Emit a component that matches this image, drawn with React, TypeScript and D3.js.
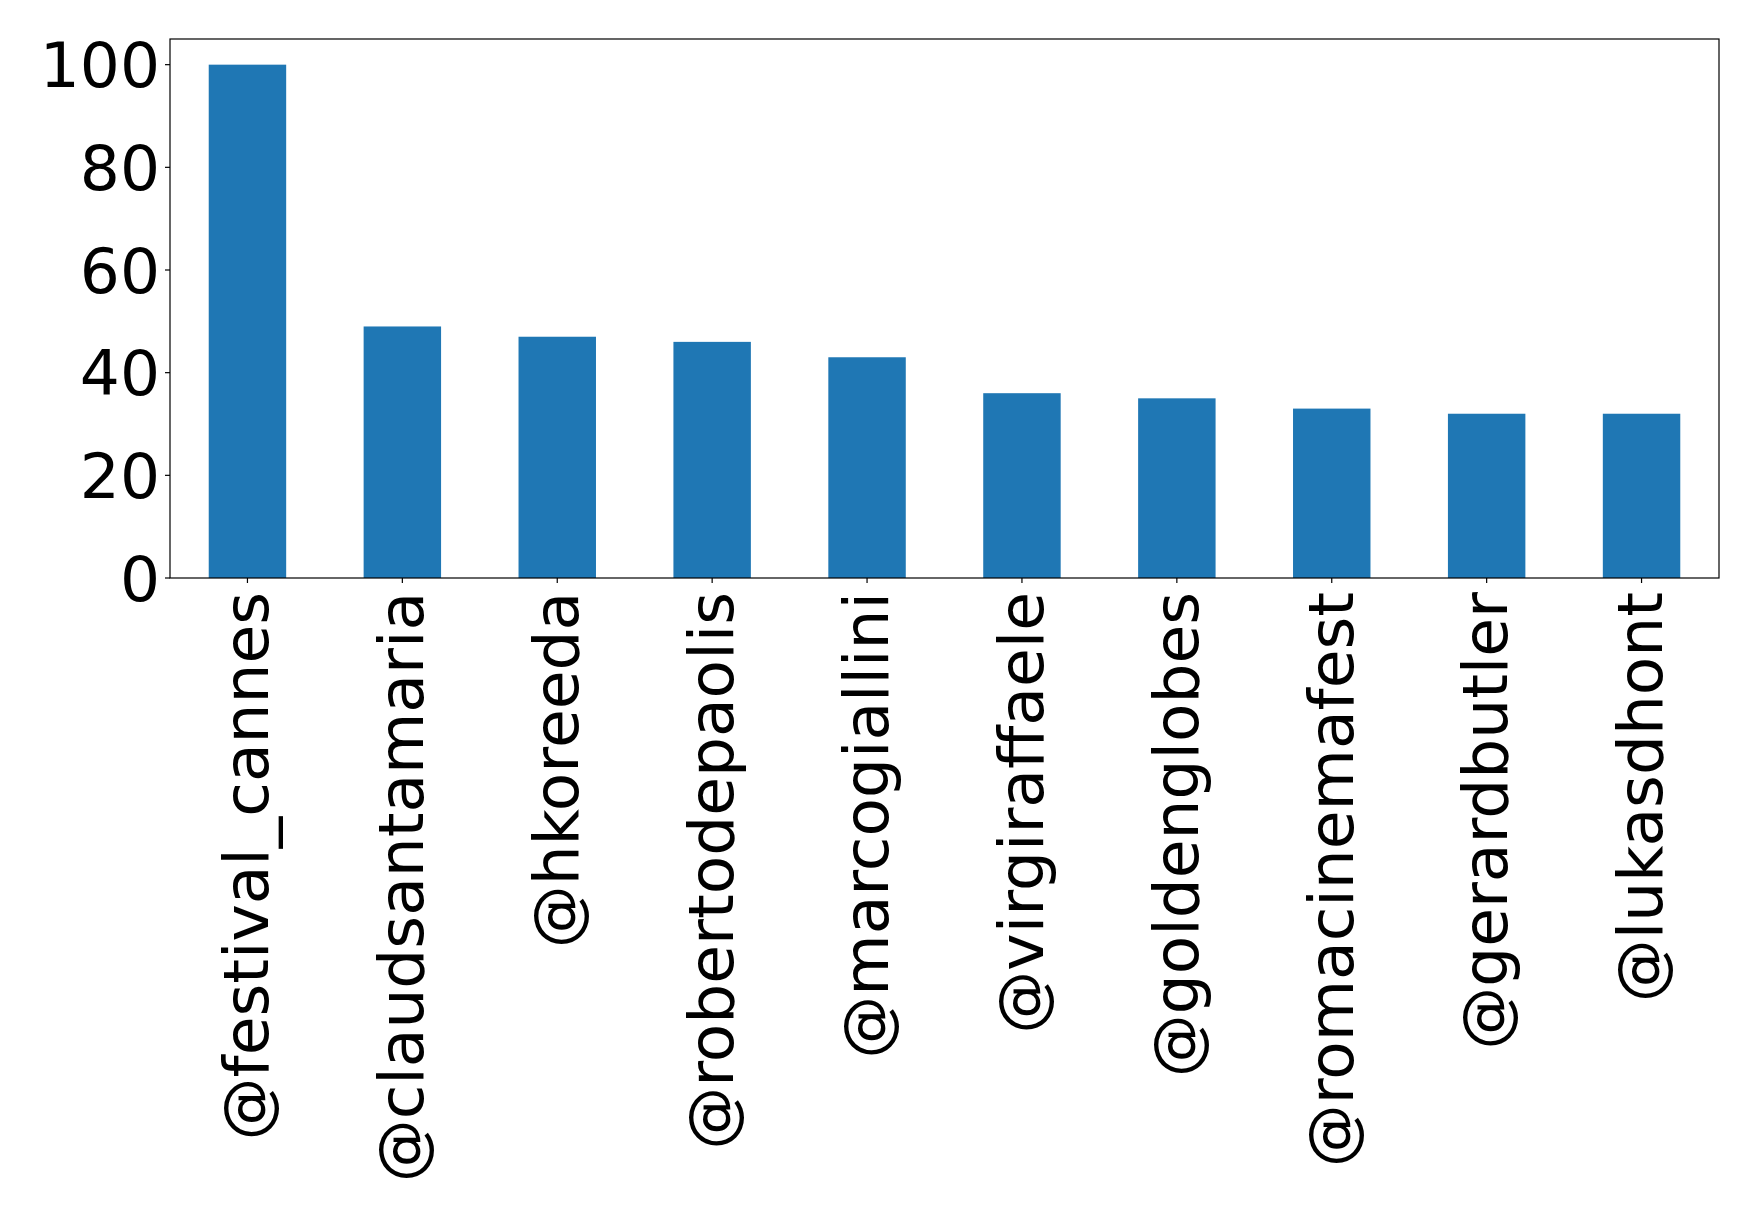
import React, { useEffect, useRef } from "react";
import * as d3 from "d3";

const categories = [
  "@festival_cannes",
  "@claudsantamaria",
  "@hkoreeda",
  "@robertodepaolis",
  "@marcogiallini",
  "@virgiraffaele",
  "@goldenglobes",
  "@romacinemafest",
  "@gerardbutler",
  "@lukasdhont",
];
const values = [100, 49, 47, 46, 43, 36, 35, 33, 32, 32];
const yTicks = [0, 20, 40, 60, 80, 100];

const W = 1758;
const H = 1213;
const M = { left: 170, top: 39, right: 1719, bottom: 578 };
const FONT = "DejaVu Sans, sans-serif";
const FS = 63;

export default function App() {
  const ref = useRef<SVGSVGElement | null>(null);
  useEffect(() => {
    const svg = d3.select(ref.current);
    svg.selectAll("*").remove();
    const x = d3
      .scaleLinear()
      .domain([-0.5, categories.length - 0.5])
      .range([M.left, M.right]);
    const y = d3.scaleLinear().domain([0, 105]).range([M.bottom, M.top]);
    const bw = x(0.25) - x(-0.25);

    svg
      .append("rect")
      .attr("width", W)
      .attr("height", H)
      .attr("fill", "white");

    svg
      .append("g")
      .selectAll("rect")
      .data(values)
      .join("rect")
      .attr("x", (_d, i) => x(i) - bw / 2)
      .attr("width", bw)
      .attr("y", (d) => y(d))
      .attr("height", (d) => y(0) - y(d))
      .attr("fill", "#1f77b4");

    // frame
    svg
      .append("rect")
      .attr("x", M.left)
      .attr("y", M.top)
      .attr("width", M.right - M.left)
      .attr("height", M.bottom - M.top)
      .attr("fill", "none")
      .attr("stroke", "black")
      .attr("stroke-width", 1.2);

    // y ticks
    const yg = svg.append("g");
    yTicks.forEach((t) => {
      yg.append("line")
        .attr("x1", M.left - 5)
        .attr("x2", M.left)
        .attr("y1", y(t))
        .attr("y2", y(t))
        .attr("stroke", "black")
        .attr("stroke-width", 1.2);
      yg.append("text")
        .attr("x", M.left - 10)
        .attr("y", y(t))
        .attr("dy", "0.36em")
        .attr("text-anchor", "end")
        .attr("font-family", FONT)
        .attr("font-size", FS)
        .attr("fill", "black")
        .text(String(t));
    });

    // x ticks
    const xg = svg.append("g");
    categories.forEach((c, i) => {
      const cx = x(i);
      xg.append("line")
        .attr("x1", cx)
        .attr("x2", cx)
        .attr("y1", M.bottom)
        .attr("y2", M.bottom + 5)
        .attr("stroke", "black")
        .attr("stroke-width", 1.2);
      xg.append("text")
        .attr("transform", `translate(${cx},${M.bottom + 14}) rotate(-90)`)
        .attr("text-anchor", "end")
        .attr("dy", "0.33em")
        .attr("font-family", FONT)
        .attr("font-size", FS)
        .attr("fill", "black")
        .text(c);
    });
  }, []);
  return (
    <svg
      ref={ref}
      width={W}
      height={H}
      style={{ position: "absolute", left: 0, top: 0, display: "block" }}
    />
  );
}
